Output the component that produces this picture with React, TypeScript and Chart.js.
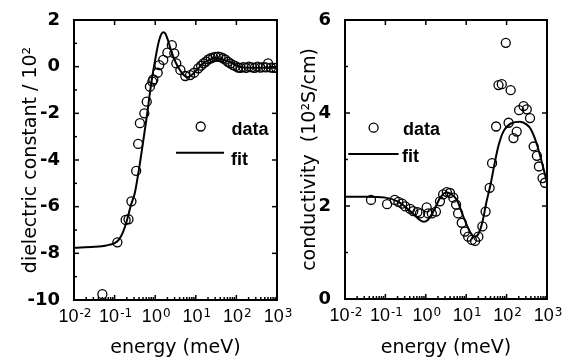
import React, { useEffect, useRef } from "react";
import { Chart, registerables } from "chart.js";

Chart.register(...registerables);

// ---------- axis ticks ----------
const energyTicks = [0.01, 0.1, 1, 10, 100, 1000];
const energyTickBase = "10";
const energyTickExponents = ["-2", "-1", "0", "1", "2", "3"];
const dielTicks = [-10, -8, -6, -4, -2, 0, 2];
const dielMinorTicks = [-9, -7, -5, -3, -1, 1];
const condTicks = [0, 2, 4, 6];
const condMinorTicks = [1, 3, 5];

// ---------- dielectric constant (left panel) ----------
const dielDataE = [0.05, 0.117, 0.187, 0.22, 0.26, 0.34, 0.38, 0.42, 0.54, 0.62, 0.74, 0.85, 0.9, 1.15, 1.26, 1.58, 2.0, 2.57, 2.95, 3.31, 4.17, 5.5, 7.24, 9.1, 11.5, 13.5, 15.5, 17.8, 20.4, 23.4, 26.9, 30.9, 35.5, 40.7, 46.8, 53.7, 61.7, 70.8, 83.2, 95.5, 110, 126, 148, 174, 204, 240, 282, 331, 389, 457, 537, 603, 708, 832, 955];
const dielDataY = [-9.75, -7.53, -6.57, -6.54, -5.77, -4.47, -3.31, -2.42, -2.0, -1.5, -0.86, -0.64, -0.55, -0.26, 0.07, 0.29, 0.6, 0.92, 0.57, 0.14, -0.14, -0.4, -0.36, -0.26, -0.07, 0.04, 0.14, 0.22, 0.31, 0.36, 0.4, 0.42, 0.43, 0.41, 0.36, 0.3, 0.21, 0.14, 0.07, 0.02, -0.04, -0.05, -0.02, -0.05, 0.0, -0.03, -0.05, 0.0, -0.04, -0.02, -0.03, 0.14, -0.04, -0.05, -0.05];
const dielFitE = [0.01, 0.0316, 0.063, 0.1, 0.126, 0.158, 0.2, 0.251, 0.316, 0.398, 0.501, 0.631, 0.794, 1, 1.26, 1.58, 1.78, 2.0, 2.51, 3.16, 3.98, 5.01, 6.31, 7.94, 10, 12.6, 15.8, 22.4, 31.6, 44.7, 69.2, 100, 148, 316, 1000];
const dielFitY = [-7.76, -7.72, -7.66, -7.56, -7.42, -7.12, -6.6, -5.95, -5.4, -4.4, -3.25, -2.05, -0.75, 0.3, 1.15, 1.47, 1.42, 1.2, 0.65, 0.2, -0.12, -0.36, -0.45, -0.36, -0.18, 0.0, 0.16, 0.3, 0.36, 0.32, 0.2, 0.05, -0.04, -0.05, -0.05];

// ---------- conductivity (right panel) ----------
const condDataE = [0.044, 0.11, 0.17, 0.21, 0.26, 0.31, 0.41, 0.49, 0.62, 0.72, 1.05, 1.15, 1.41, 1.78, 2.24, 2.69, 3.31, 3.98, 4.79, 5.62, 6.31, 7.76, 9.33, 11.2, 13.8, 16.6, 20, 25.1, 30.2, 38, 43.7, 55, 63, 76, 95.5, 112, 126, 148, 178, 204, 263, 316, 380, 468, 562, 631, 776, 891];
const condDataY = [2.13, 2.04, 2.13, 2.09, 2.05, 1.99, 1.94, 1.89, 1.87, 1.84, 1.97, 1.84, 1.84, 1.88, 2.1, 2.25, 2.3, 2.28, 2.18, 2.03, 1.84, 1.64, 1.45, 1.34, 1.27, 1.25, 1.34, 1.56, 1.88, 2.39, 2.92, 3.71, 4.6, 4.62, 5.51, 3.79, 4.49, 3.46, 3.6, 4.06, 4.15, 4.08, 3.89, 3.28, 3.08, 2.85, 2.6, 2.5];
const condFitE = [0.01, 0.0316, 0.1, 0.2, 0.316, 0.501, 0.708, 0.891, 1.12, 1.58, 2.24, 3.16, 3.98, 5.89, 8.51, 12.3, 15.8, 20, 25.1, 31.6, 39.8, 50.1, 63.1, 83.2, 132, 214, 316, 398, 550, 794, 1000];
const condFitY = [2.2, 2.2, 2.18, 2.1, 1.98, 1.82, 1.7, 1.66, 1.7, 1.9, 2.17, 2.29, 2.27, 2.13, 1.77, 1.45, 1.34, 1.4, 1.65, 2.08, 2.45, 2.9, 3.3, 3.6, 3.78, 3.81, 3.75, 3.65, 3.35, 2.85, 2.5];

const zip = (xs: number[], ys: number[]) => xs.map((x, i) => ({ x, y: ys[i] }));

const BASE_FONT = "18px 'Liberation Sans', Arial, sans-serif";
const SUP_FONT = "12px 'DejaVu Sans', sans-serif";

const framePlugin = {
  id: "frame",
  afterDatasetsDraw(chart: any, _args: any, opts: any) {
    const { ctx, chartArea } = chart;
    const { left, right, top, bottom } = chartArea;
    const xs = chart.scales.x;
    const ys = chart.scales.y;
    const seg = (x1: number, y1: number, x2: number, y2: number) => {
      ctx.beginPath();
      ctx.moveTo(x1, y1);
      ctx.lineTo(x2, y2);
      ctx.stroke();
    };
    ctx.save();
    ctx.strokeStyle = "#000";
    ctx.lineWidth = 1.5;
    const major = 5;
    const minor = 3;
    for (const v of opts.xMajor) {
      const p = xs.getPixelForValue(v);
      seg(p, bottom, p, bottom - major);
      seg(p, top, p, top + major);
    }
    for (let d = 0; d < opts.xMajor.length - 1; d++) {
      for (let m = 2; m <= 9; m++) {
        const p = xs.getPixelForValue(opts.xMajor[d] * m);
        seg(p, bottom, p, bottom - minor);
      }
    }
    for (const v of opts.yMajor) {
      const p = ys.getPixelForValue(v);
      seg(left, p, left + major, p);
      seg(right, p, right - major, p);
    }
    for (const v of opts.yMinor) {
      const p = ys.getPixelForValue(v);
      seg(left, p, left + minor, p);
    }
    ctx.lineWidth = 2;
    ctx.strokeRect(left, top, right - left, bottom - top);
    ctx.restore();
  },
};

// x tick labels as "10" with a raised exponent
const powerLabelPlugin = {
  id: "powerLabels",
  afterDraw(chart: any, _args: any, opts: any) {
    const { ctx, chartArea } = chart;
    const xs = chart.scales.x;
    const baseY = chartArea.bottom + 21.7;
    ctx.save();
    ctx.fillStyle = "#000";
    ctx.textAlign = "left";
    ctx.textBaseline = "alphabetic";
    opts.values.forEach((v: number, i: number) => {
      const px = xs.getPixelForValue(v);
      ctx.font = BASE_FONT;
      const wb = ctx.measureText(opts.base).width;
      ctx.font = SUP_FONT;
      const we = ctx.measureText(opts.exps[i]).width;
      const x0 = px - (wb + we + 1) / 2 + 1;
      ctx.font = BASE_FONT;
      ctx.fillText(opts.base, x0, baseY);
      ctx.font = SUP_FONT;
      ctx.fillText(opts.exps[i], x0 + wb + 1, baseY - 5);
    });
    ctx.restore();
  },
};

const legendPlugin = {
  id: "inLegend",
  afterDraw(chart: any, _args: any, o: any) {
    const { ctx, chartArea } = chart;
    const L = chartArea.left;
    const T = chartArea.top;
    const ds = chart.data.datasets;
    ctx.save();
    ctx.strokeStyle = "#000";
    ctx.fillStyle = "#000";
    ctx.lineWidth = 1.3;
    ctx.beginPath();
    ctx.arc(L + o.cx, T + o.cy, 4.5, 0, Math.PI * 2);
    ctx.stroke();
    ctx.lineWidth = 2;
    ctx.beginPath();
    ctx.moveTo(L + o.lx1, T + o.ly);
    ctx.lineTo(L + o.lx2, T + o.ly);
    ctx.stroke();
    ctx.font = "bold 18px 'Liberation Sans', Arial, sans-serif";
    ctx.textAlign = "left";
    ctx.textBaseline = "alphabetic";
    ctx.fillText(ds[0].label, L + o.tx1, T + o.ty1);
    ctx.fillText(ds[1].label, L + o.tx2, T + o.ty2);
    ctx.restore();
  },
};

function makeConfig(p: any) {
  return {
    type: "scatter",
    data: {
      datasets: [
        {
          label: "data",
          data: zip(p.dataE, p.dataY),
          showLine: false,
          pointStyle: "circle",
          pointRadius: 4.5,
          pointBorderWidth: 1.3,
          borderColor: "#000",
          pointBorderColor: "#000",
          backgroundColor: "rgba(0,0,0,0)",
          pointBackgroundColor: "rgba(0,0,0,0)",
        },
        {
          label: "fit",
          data: zip(p.fitE, p.fitY),
          showLine: true,
          borderColor: "#000",
          borderWidth: 2,
          pointRadius: 0,
          fill: false,
          cubicInterpolationMode: "monotone",
        },
      ],
    },
    options: {
      responsive: false,
      animation: false,
      devicePixelRatio: 1,
      events: [],
      layout: { padding: { left: 0, top: 20, right: p.padRight, bottom: 0 } },
      plugins: {
        legend: { display: false },
        tooltip: { enabled: false },
        frame: { xMajor: energyTicks, yMajor: p.yTicks, yMinor: p.yMinor },
        powerLabels: { values: energyTicks, base: energyTickBase, exps: energyTickExponents },
        inLegend: p.legend,
      },
      scales: {
        x: {
          type: "logarithmic",
          min: 0.01,
          max: 1000,
          grid: { display: false },
          border: { display: false },
          afterBuildTicks: (s: any) => {
            s.ticks = energyTicks.map((v) => ({ value: v }));
          },
          afterFit: (s: any) => {
            s.height = p.xHeight;
            s.paddingLeft = 0;
            s.paddingRight = 0;
          },
          ticks: { display: false },
          title: {
            display: true,
            text: "energy (meV)",
            color: "#000",
            font: { family: "'DejaVu Sans', sans-serif", size: 19, lineHeight: 1 },
            padding: { top: 0, bottom: 0 },
          },
        },
        y: {
          type: "linear",
          min: p.yMin,
          max: p.yMax,
          grid: { display: false },
          border: { display: false },
          afterBuildTicks: (s: any) => {
            s.ticks = p.yTicks.map((v: number) => ({ value: v }));
          },
          afterFit: (s: any) => {
            s.width = p.yWidth;
            s.paddingTop = 0;
            s.paddingBottom = 0;
          },
          ticks: {
            autoSkip: false,
            padding: 6,
            color: "#000",
            font: { family: "'DejaVu Sans', sans-serif", size: 18, weight: "bold" },
            callback: (v: any) => String(v),
          },
          title: {
            display: true,
            text: p.yTitle,
            color: "#000",
            font: { family: "'DejaVu Sans', sans-serif", size: 19, lineHeight: 1 },
            padding: { top: p.yTitlePad, bottom: 0 },
          },
        },
      },
    },
    plugins: [framePlugin, powerLabelPlugin, legendPlugin],
  };
}

const leftParams = {
  dataE: dielDataE,
  dataY: dielDataY,
  fitE: dielFitE,
  fitY: dielFitY,
  yMin: -10,
  yMax: 2,
  yTicks: dielTicks,
  yMinor: dielMinorTicks,
  yTitle: "dielectric constant / 10²",
  yTitlePad: 22,
  yWidth: 74,
  xHeight: 58,
  padRight: 23,
  legend: { cx: 126.7, cy: 106.5, tx1: 157.5, ty1: 115, lx1: 102, lx2: 150, ly: 132.7, tx2: 157, ty2: 145 },
};

const rightParams = {
  dataE: condDataE,
  dataY: condDataY,
  fitE: condFitE,
  fitY: condFitY,
  yMin: 0,
  yMax: 6,
  yTicks: condTicks,
  yMinor: condMinorTicks,
  yTitle: "conductivity  (10²S/cm)",
  yTitlePad: 19,
  yWidth: 63,
  xHeight: 59,
  padRight: 17,
  legend: { cx: 28.6, cy: 107.7, tx1: 58, ty1: 115, lx1: 3.3, lx2: 53.6, ly: 134, tx2: 57, ty2: 141.7 },
};

function Panel({ params, left, width }: { params: any; left: number; width: number }) {
  const ref = useRef<HTMLCanvasElement | null>(null);
  useEffect(() => {
    if (!ref.current) return;
    const chart = new Chart(ref.current, makeConfig(params) as any);
    return () => chart.destroy();
  }, [params]);
  return (
    <canvas
      ref={ref}
      width={width}
      height={358}
      style={{ position: "absolute", left, top: 0, width, height: 358 }}
    />
  );
}

export default function App() {
  return (
    <div style={{ position: "absolute", left: 0, top: 0, width: 564, height: 358, background: "#fff" }}>
      <Panel params={leftParams} left={0} width={300} />
      <Panel params={rightParams} left={282} width={282} />
    </div>
  );
}
